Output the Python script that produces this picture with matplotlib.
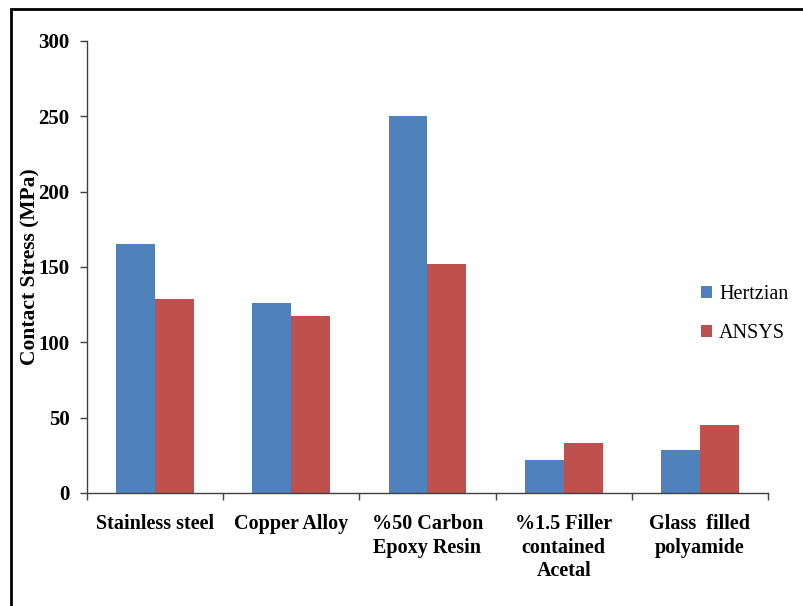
import matplotlib
matplotlib.use("Agg")
import matplotlib.pyplot as plt
import matplotlib.patches as mpatches
import numpy as np

categories = ["Stainless steel", "Copper Alloy", "%50 Carbon\nEpoxy Resin",
              "%1.5 Filler\ncontained\nAcetal", "Glass  filled\npolyamide"]
hertzian = [165, 126, 250, 22, 28.5]
ansys = [129, 117.5, 152, 33, 45]
series_names = ["Hertzian", "ANSYS"]
yticks = [0, 50, 100, 150, 200, 250, 300]

plt.rcParams['font.family'] = ['Liberation Serif', 'DejaVu Serif']

fig = plt.figure(figsize=(8.04, 6.06), dpi=100)
ax = fig.add_axes([87/804, 1-493/606, (768-87)/804, (493-41)/606])

x = np.arange(len(categories))
w = 0.285
b1 = ax.bar(x - w/2, hertzian, w, color='#4F81BD', label=series_names[0])
b2 = ax.bar(x + w/2, ansys, w, color='#C0504D', label=series_names[1])

ax.set_xlim(-0.5, len(categories) - 0.5)
ax.set_ylim(0, 300)
ax.set_yticks(yticks)
ax.set_yticklabels([str(t) for t in yticks], fontsize=15, fontweight='bold')
ax.set_xticks(x)
ax.set_xticklabels(categories, fontsize=14.5, fontweight='bold', linespacing=1.25, va='top')
ax.tick_params(axis='x', length=0, pad=15)
ax.set_xticks(np.arange(len(categories) + 1) - 0.5, minor=True)
ax.tick_params(axis='x', which='minor', length=5, width=1, color='#404040', direction='out')
ax.tick_params(axis='y', length=5, width=1, color='#404040', direction='out', pad=7.5)

for s in ['top', 'right']:
    ax.spines[s].set_visible(False)
for s in ['left', 'bottom']:
    ax.spines[s].set_color('#404040')
    ax.spines[s].set_linewidth(1)

ax.set_ylabel("Contact Stress (MPa)", fontsize=15.5, fontweight='bold')
ax.yaxis.set_label_coords((40 - 87) / 681, 0.5)

leg = ax.legend(handles=[b1, b2], loc='upper left', bbox_to_anchor=(683/804, 1-267/606),
                bbox_transform=fig.transFigure, frameon=False, fontsize=14.5,
                handlelength=0.55, handleheight=0.55, handletextpad=0.35, labelspacing=1.0)

frame = mpatches.Rectangle((11/804, -0.1), 1.2, 1.1 - 9/606, transform=fig.transFigure,
                           fill=False, edgecolor='black', linewidth=2, clip_on=False)
fig.patches.append(frame)

fig.savefig("out.png", dpi=100)
